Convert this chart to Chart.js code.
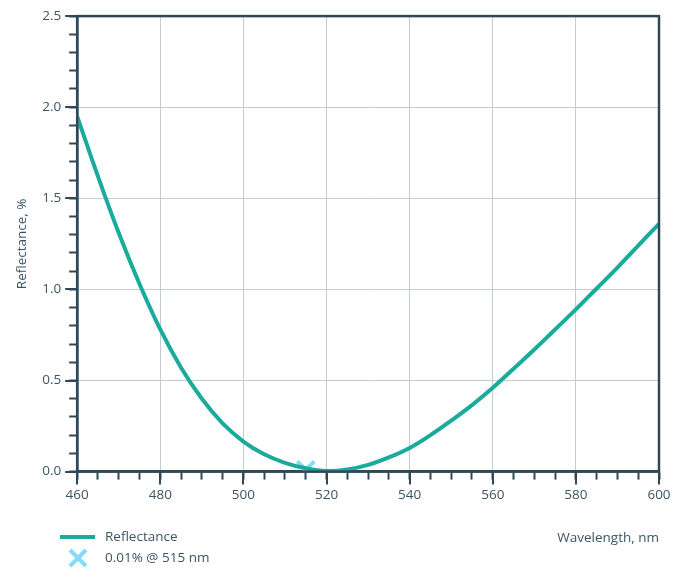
<!DOCTYPE html>
<html>
<head>
<meta charset="utf-8">
<script src="https://cdn.jsdelivr.net/npm/chart.js@4/dist/chart.umd.min.js"></script>
<style>
html, body { margin: 0; padding: 0; background: #fff; }
#wrap { width: 683px; height: 583px; }
</style>
</head>
<body>
<div id="wrap"><canvas id="reflChart"></canvas></div>
<script>
// wavelength in nm, reflectance in %
const wavelengths = [460, 465, 470, 475, 480, 485, 490, 495, 500, 505, 510, 515, 520,
    525, 530, 535, 540, 545, 550, 555, 560, 565, 570, 575, 580, 585, 590, 595, 600];
const reflectance = [1.95, 1.62, 1.31, 1.03, 0.78, 0.57, 0.40, 0.265, 0.165, 0.095, 0.048, 0.018, 0.003,
    0.012, 0.037, 0.078, 0.13, 0.2, 0.28, 0.365, 0.46, 0.565, 0.67, 0.78, 0.89, 1.005, 1.12, 1.24, 1.36];
const minWavelength = [515];
const minReflectance = [0.01];

const axisColor = '#2e4858';
const textColor = '#3b5563';
const gridColor = '#c3cdd0';
const lineColor = '#1aab9b';
const markerColor = '#84dcfb';
const fontFamily = 'Open Sans';

// small helper plugin: closed box, long major ticks, stacked legend
const boxPlugin = {
    id: 'boxPlugin',
    afterDraw(chart) {
        const ctx = chart.ctx;
        const a = chart.chartArea;
        const xs = chart.scales.x, ys = chart.scales.y;
        ctx.save();
        ctx.strokeStyle = axisColor;
        ctx.lineWidth = 2.5;
        ctx.strokeRect(a.left, a.top, a.right - a.left, a.bottom - a.top);
        ctx.lineWidth = 2;
        ctx.beginPath();
        xs.ticks.forEach(t => {
            if (t.value % 20 === 0) {
                const px = Math.round(xs.getPixelForValue(t.value));
                ctx.moveTo(px, a.bottom);
                ctx.lineTo(px, a.bottom + 13);
            }
        });
        ys.ticks.forEach(t => {
            if (Math.round(t.value * 10) % 5 === 0) {
                const py = Math.round(ys.getPixelForValue(t.value));
                ctx.moveTo(a.left, py);
                ctx.lineTo(a.left - 12, py);
            }
        });
        ctx.stroke();

        // legend
        ctx.font = '13.5px "' + fontFamily + '"';
        ctx.textBaseline = 'middle';
        ctx.fillStyle = textColor;
        let ly = 537;
        chart.data.datasets.forEach(ds => {
            ctx.strokeStyle = ds.borderColor;
            ctx.lineWidth = 4;
            ctx.beginPath();
            if (ds.showLine) {
                ctx.moveTo(60, ly);
                ctx.lineTo(95, ly);
            } else {
                ctx.moveTo(70, ly - 8); ctx.lineTo(86, ly + 8);
                ctx.moveTo(86, ly - 8); ctx.lineTo(70, ly + 8);
            }
            ctx.stroke();
            ctx.fillText(ds.label, 105, ly);
            ly += 21;
        });
        ctx.restore();
    }
};

new Chart(document.getElementById('reflChart').getContext('2d'), {
    type: 'scatter',
    data: {
        datasets: [
            {
                label: 'Reflectance',
                data: wavelengths.map((w, i) => ({ x: w, y: reflectance[i] })),
                showLine: true,
                borderColor: lineColor,
                borderWidth: 4,
                pointRadius: 0,
                tension: 0.4
            },
            {
                label: '0.01% @ 515 nm',
                data: minWavelength.map((w, i) => ({ x: w, y: minReflectance[i] })),
                showLine: false,
                borderColor: markerColor,
                backgroundColor: markerColor,
                pointStyle: 'crossRot',
                pointRadius: 12,
                pointBorderWidth: 4
            }
        ]
    },
    options: {
        responsive: true,
        maintainAspectRatio: false,
        animation: false,
        layout: { padding: { top: 15, right: 24, bottom: 33, left: 10 } },
        plugins: {
            legend: { display: false },
            tooltip: { enabled: false }
        },
        scales: {
            x: {
                type: 'linear',
                min: 460,
                max: 600,
                ticks: {
                    stepSize: 5,
                    autoSkip: false,
                    maxRotation: 0,
                    padding: 7,
                    color: textColor,
                    font: { family: fontFamily, size: 13.5 },
                    callback: v => (v % 20 === 0 ? v : '')
                },
                grid: {
                    color: c => (c.tick && c.tick.value % 20 === 0 ? gridColor : 'rgba(0,0,0,0)'),
                    tickColor: axisColor,
                    tickLength: 8,
                    tickWidth: 2
                },
                border: { color: axisColor, width: 2.5 },
                title: {
                    display: true,
                    text: 'Wavelength, nm',
                    align: 'end',
                    color: textColor,
                    font: { family: fontFamily, size: 13.5 },
                    padding: { top: 20 }
                }
            },
            y: {
                min: 0,
                max: 2.5,
                ticks: {
                    stepSize: 0.1,
                    autoSkip: false,
                    padding: 8,
                    color: textColor,
                    font: { family: fontFamily, size: 13.5 },
                    callback: v => (Math.round(v * 10) % 5 === 0 ? v.toFixed(1) : '')
                },
                grid: {
                    color: c => (c.tick && Math.round(c.tick.value * 10) % 5 === 0 ? gridColor : 'rgba(0,0,0,0)'),
                    tickColor: axisColor,
                    tickLength: 8,
                    tickWidth: 2
                },
                border: { color: axisColor, width: 2.5 },
                title: {
                    display: true,
                    text: 'Reflectance, %',
                    color: textColor,
                    font: { family: fontFamily, size: 13.5 },
                    padding: { bottom: 4 }
                }
            }
        }
    },
    plugins: [boxPlugin]
});
</script>
</body>
</html>
